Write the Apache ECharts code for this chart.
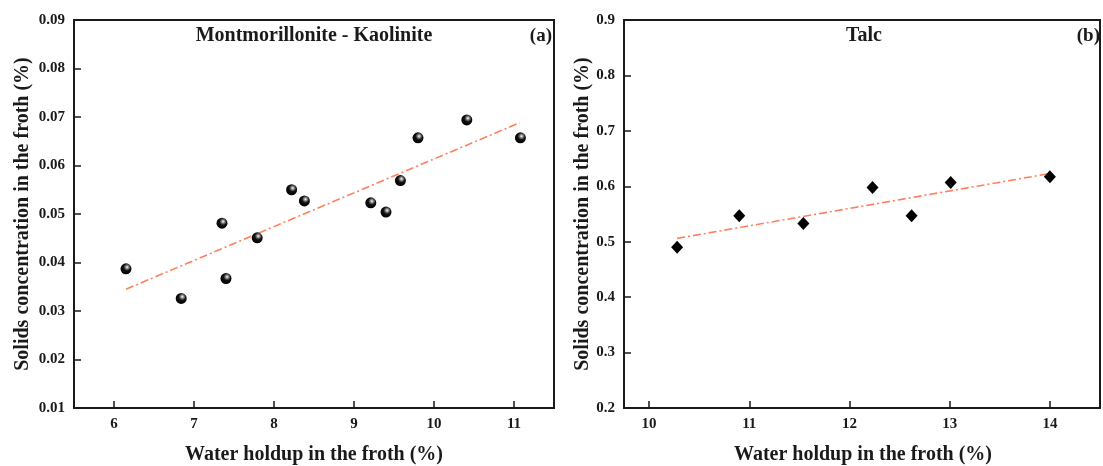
<!DOCTYPE html>
<html>
<head>
<meta charset="utf-8">
<script src="https://cdn.jsdelivr.net/npm/echarts@6/dist/echarts.min.js"></script>
<style>
    html, body { margin: 0; padding: 0; background: #fff; }
    #chart { width: 1103px; height: 466px; }
</style>
</head>
<body>
<div id="chart"></div>
<script>
// (a) Montmorillonite - Kaolinite
var mkWater = [6.15, 6.84, 7.35, 7.40, 7.79, 8.22, 8.38, 9.21, 9.40, 9.58, 9.80, 10.41, 11.08];
var mkSolids = [0.0387, 0.0326, 0.0481, 0.0367, 0.0451, 0.0550, 0.0527, 0.0523, 0.0504, 0.0569, 0.0657, 0.0694, 0.0657];
var mkFitX = [6.15, 11.07];
var mkFitY = [0.0345, 0.0688];

// (b) Talc
var talcWater = [10.28, 10.90, 11.54, 12.23, 12.62, 13.01, 14.00];
var talcSolids = [0.490, 0.547, 0.533, 0.598, 0.547, 0.607, 0.617];
var talcFitX = [10.28, 14.00];
var talcFitY = [0.506, 0.623];

var xName = 'Water holdup in the froth (%)';
var yName = 'Solids concentration in the froth (%)';

function pairs(xs, ys) {
    var out = [];
    for (var i = 0; i < xs.length; i++) out.push([xs[i], ys[i]]);
    return out;
}

var chart = echarts.init(document.getElementById('chart'));
var font = 'Liberation Serif, Times New Roman, serif';
var ink = '#1a1a1a';

function xAxis(idx, min, max) {
    return {
        type: 'value', gridIndex: idx, min: min, max: max,
        axisLine: { lineStyle: { color: ink, width: 2 } },
        axisTick: { inside: true, length: 7, lineStyle: { color: ink, width: 1.5 } },
        axisLabel: {
            margin: 9, fontFamily: font, fontWeight: 'bold', fontSize: 15, color: ink,
            formatter: function (v) { return Number.isInteger(v) ? v : ''; }
        },
        splitLine: { show: false }
    };
}

function yAxis(idx, min, max, step, digits) {
    return {
        type: 'value', gridIndex: idx, min: min, max: max, interval: step,
        axisLine: { lineStyle: { color: ink, width: 2 } },
        axisTick: { inside: true, length: 7, lineStyle: { color: ink, width: 1.5 } },
        axisLabel: {
            margin: 9, fontFamily: font, fontWeight: 'bold', fontSize: 15, color: ink,
            formatter: function (v) { return v.toFixed(digits); }
        },
        splitLine: { show: false }
    };
}

// plain text labels (panel titles and axis titles)
function label(text, x, y, size, align, rotate) {
    return {
        type: 'text', x: x, y: y, rotation: rotate ? Math.PI / 2 : 0,
        style: { text: text, textAlign: align, textVerticalAlign: 'middle', font: 'bold ' + size + 'px ' + font, fill: ink }
    };
}

var sphere = new echarts.graphic.RadialGradient(0.6, 0.35, 0.65, [
    { offset: 0, color: '#ffffff' },
    { offset: 0.22, color: '#8a8a8a' },
    { offset: 0.5, color: '#111111' },
    { offset: 1, color: '#000000' }
]);

var fitStyle = { color: '#ff7f5c', width: 1.6, type: [8, 3, 2, 3] };

var option = {
    animation: false,
    backgroundColor: '#fff',
    grid: [
        { left: 74, top: 20, width: 480, height: 388, show: true, borderColor: ink, borderWidth: 2 },
        { left: 624, top: 20, width: 478, height: 388, show: true, borderColor: ink, borderWidth: 2 }
    ],
    xAxis: [xAxis(0, 5.5, 11.5), xAxis(1, 9.75, 14.5)],
    yAxis: [yAxis(0, 0.01, 0.09, 0.01, 2), yAxis(1, 0.2, 0.9, 0.1, 1)],
    graphic: [
        label('Montmorillonite - Kaolinite', 314, 36, 20, 'center'),
        label('(a)', 552, 36, 19, 'right'),
        label('Talc', 864, 36, 20, 'center'),
        label('(b)', 1100, 36, 19, 'right'),
        label(xName, 314, 455, 20, 'center'),
        label(xName, 863, 455, 20, 'center'),
        label(yName, 23, 214, 20, 'center', true),
        label(yName, 583, 214, 20, 'center', true)
    ],
    series: [
        {
            type: 'line', xAxisIndex: 0, yAxisIndex: 0, data: pairs(mkFitX, mkFitY),
            symbol: 'none', lineStyle: fitStyle, z: 2
        },
        {
            type: 'scatter', xAxisIndex: 0, yAxisIndex: 0, data: pairs(mkWater, mkSolids),
            symbol: 'circle', symbolSize: 11, itemStyle: { color: sphere, opacity: 1 }, z: 3
        },
        {
            type: 'line', xAxisIndex: 1, yAxisIndex: 1, data: pairs(talcFitX, talcFitY),
            symbol: 'none', lineStyle: fitStyle, z: 2
        },
        {
            type: 'scatter', xAxisIndex: 1, yAxisIndex: 1, data: pairs(talcWater, talcSolids),
            symbol: 'diamond', symbolSize: [12, 13], itemStyle: { color: '#000', opacity: 1 }, z: 3
        }
    ]
};

chart.setOption(option);
</script>
</body>
</html>
